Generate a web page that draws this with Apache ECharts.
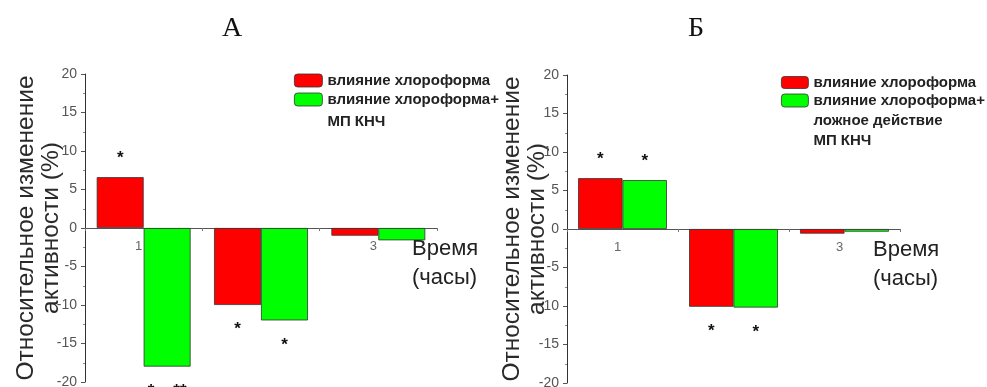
<!DOCTYPE html>
<html>
<head>
<meta charset="utf-8">
<script src="https://cdn.jsdelivr.net/npm/echarts@6/dist/echarts.min.js"></script>
<style>
html,body{margin:0;padding:0;background:#fff;}
#chart{width:987px;height:387px;}
</style>
</head>
<body>
<div id="chart"></div>
<script>
// ---- data ----
var categories = ['1', '2', '3'];
var seriesNames = ['влияние хлороформа', 'влияние хлороформа+\nМП КНЧ', 'влияние хлороформа+\nложное действие\nМП КНЧ'];
var panelTitles = ['А', 'Б'];
var yTicks = [-20, -15, -10, -5, 0, 5, 10, 15, 20];
var yAxisName = 'Относительное изменение\nактивности (%)';
var xAxisName = 'Время\n(часы)';
// panel A
var aRed = [6.6, -10.0, -1.0];
var aGreen = [-18.0, -12.0, -1.6];
var aRedSig = ['*', '*', ''];
var aGreenSig = ['*    **', '*', ''];
// panel B
var bRed = [6.6, -10.1, -0.6];
var bGreen = [6.35, -10.2, -0.35];
var bRedSig = ['*', '*', ''];
var bGreenSig = ['*', '*', ''];

var RED = '#ff0000', GREEN = '#00ff00';

function barData(vals, sig) {
  return vals.map(function (v, i) {
    return {
      value: v,
      label: {
        show: !!sig[i],
        formatter: sig[i],
        position: v >= 0 ? 'top' : 'bottom',
        distance: v >= 0 ? 10 : 16
      }
    };
  });
}

function barSeries(name, color, vals, sig, idx) {
  return {
    type: 'bar',
    name: name,
    xAxisIndex: idx, yAxisIndex: idx,
    data: barData(vals, sig),
    barGap: '0%',
    barCategoryGap: '20%',
    itemStyle: { color: color, borderColor: '#333', borderWidth: 0.8 },
    label: { color: '#111', fontSize: 17, fontWeight: 'bold', fontFamily: 'Liberation Sans' }
  };
}

function xAxis(idx, gap) {
  return {
    type: 'category', gridIndex: idx, data: categories,
    axisLine: { onZero: true, lineStyle: { color: '#555', width: 1 } },
    axisTick: { show: true, length: 3, lineStyle: { color: '#777' } },
    axisLabel: { color: '#666', fontSize: 13, fontFamily: 'Liberation Sans', margin: -142, padding: [0, 10, 0, 0] },
    name: xAxisName, nameLocation: 'end', nameGap: gap, nameMoveOverlap: false,
    nameTextStyle: { fontSize: 22, lineHeight: 29, color: '#222', fontFamily: 'Liberation Sans',
      verticalAlign: 'top', align: 'left', padding: [6, 0, 0, 0] }
  };
}

function yAxis(idx, gap) {
  return {
    type: 'value', gridIndex: idx, min: -20, max: 20, interval: 5,
    axisLine: { show: true, lineStyle: { color: '#333', width: 1 } },
    axisTick: { show: true, inside: false, length: 4, lineStyle: { color: '#555' } },
    minorTick: { show: true, splitNumber: 2, length: 2, lineStyle: { color: '#888' } },
    splitLine: { show: false },
    axisLabel: { color: '#555', fontSize: 14, fontFamily: 'Liberation Sans Narrow, Liberation Sans', margin: 8,
      formatter: function (v) { return yTicks.indexOf(v) >= 0 ? String(v) : ''; } },
    name: yAxisName, nameLocation: 'middle', nameRotate: 90, nameGap: gap, nameMoveOverlap: false,
    nameTextStyle: { fontSize: 24.5, lineHeight: 25, color: '#2a2a2a', fontFamily: 'Liberation Sans' }
  };
}

var legendText = { fontSize: 15, fontWeight: 'bold', color: '#222', fontFamily: 'Liberation Sans' };
function lead(n) { return function (name) { return new Array(n).join('\n') + name; }; }

var chart = echarts.init(document.getElementById('chart'));
chart.setOption({
  animation: false,
  backgroundColor: '#fff',
  title: [
    { text: panelTitles[0], left: 222, top: 15, padding: 0,
      textStyle: { fontFamily: 'Liberation Serif', fontSize: 28, fontWeight: 'normal', color: '#111' } },
    { text: panelTitles[1], left: 688, top: 15, padding: 0,
      textStyle: { fontFamily: 'Liberation Serif', fontSize: 28, fontWeight: 'normal', color: '#111' } }
  ],
  legend: [
    { left: 294, top: 73, padding: 0, itemWidth: 28, itemHeight: 13, orient: 'vertical',
      data: [seriesNames[0]], selectedMode: false,
      itemStyle: { borderColor: '#333', borderWidth: 0.8 },
      textStyle: Object.assign({ lineHeight: 13 }, legendText) },
    { left: 294, top: 66.5, padding: 0, itemWidth: 28, itemHeight: 13, orient: 'vertical',
      data: [seriesNames[1]], selectedMode: false, formatter: lead(2),
      itemStyle: { borderColor: '#333', borderWidth: 0.8 },
      textStyle: Object.assign({ lineHeight: 22 }, legendText) },
    { left: 781, top: 75, padding: 0, itemWidth: 27, itemHeight: 12, orient: 'vertical',
      data: [seriesNames[0]], selectedMode: false,
      itemStyle: { borderColor: '#333', borderWidth: 0.8 },
      textStyle: Object.assign({ lineHeight: 12 }, legendText) },
    { left: 781, top: 50.5, padding: 0, itemWidth: 27, itemHeight: 13, orient: 'vertical',
      data: [seriesNames[2]], selectedMode: false, formatter: lead(3),
      itemStyle: { borderColor: '#333', borderWidth: 0.8 },
      textStyle: Object.assign({ lineHeight: 20 }, legendText) }
  ],
  grid: [
    { left: 85, top: 74, width: 352, height: 308, outerBoundsMode: 'none', containLabel: false },
    { left: 567, top: 75, width: 333, height: 308, outerBoundsMode: 'none', containLabel: false }
  ],
  xAxis: [xAxis(0, -25), xAxis(1, -27)],
  yAxis: [yAxis(0, 21), yAxis(1, 17)],
  series: [
    barSeries(seriesNames[0], RED, aRed, aRedSig, 0),
    barSeries(seriesNames[1], GREEN, aGreen, aGreenSig, 0),
    barSeries(seriesNames[0], RED, bRed, bRedSig, 1),
    barSeries(seriesNames[2], GREEN, bGreen, bGreenSig, 1)
  ]
});
</script>
</body>
</html>
